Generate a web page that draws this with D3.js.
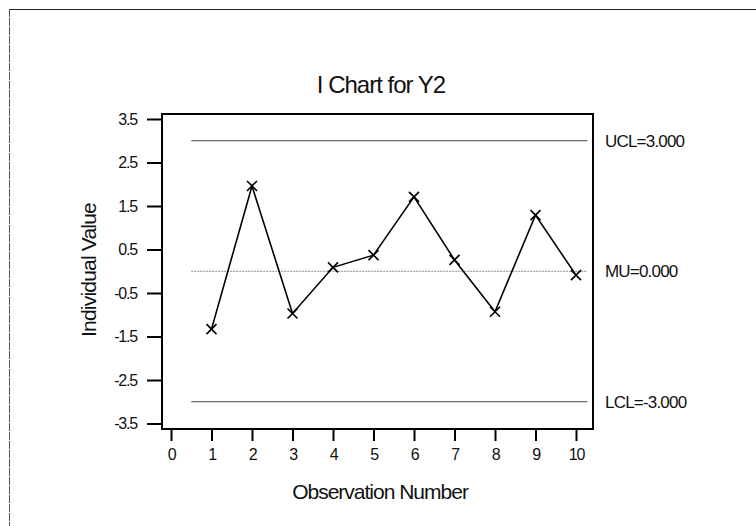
<!DOCTYPE html>
<html>
<head>
<meta charset="utf-8">
<script src="https://cdn.jsdelivr.net/npm/d3@7"></script>
<style>
  html, body { margin: 0; padding: 0; background: #fff; }
  svg { display: block; font-family: "Liberation Sans", Arial, sans-serif; }
</style>
</head>
<body>
<svg id="chart" width="756" height="526"></svg>
<script>
// Individual observations of Y2
const observations = [1, 2, 3, 4, 5, 6, 7, 8, 9, 10];
const values = [-1.33, 1.96, -0.97, 0.09, 0.37, 1.71, 0.26, -0.93, 1.29, -0.09];

// Control limits
const limitNames = ["UCL", "MU", "LCL"];
const limitValues = [3.0, 0.0, -3.0];

// Axis ticks
const xTicks = [0, 1, 2, 3, 4, 5, 6, 7, 8, 9, 10];
const yTicks = [3.5, 2.5, 1.5, 0.5, -0.5, -1.5, -2.5, -3.5];

const svg = d3.select("#chart");

// Plot frame
const box = { left: 162, right: 593, top: 114, bottom: 429 };

const x = d3.scaleLinear().domain([0, 10]).range([171, 576]);
const y = d3.scaleLinear().domain([-3.5, 3.5]).range([423.5, 119]);

// Plain hyphen for negatives
const fmtY = d => d.toFixed(1);

// Outer border (top and left edges)
svg.append("line").attr("x1", 9).attr("x2", 756).attr("y1", 9.5).attr("y2", 9.5)
  .attr("stroke", "#222").attr("stroke-width", 1);
svg.append("line").attr("x1", 9.5).attr("x2", 9.5).attr("y1", 9).attr("y2", 526)
  .attr("stroke", "#555").attr("stroke-width", 1).attr("stroke-dasharray", "8,1");

// Title
svg.append("text")
  .attr("x", 381).attr("y", 93)
  .attr("text-anchor", "middle")
  .attr("font-size", 24)
  .attr("letter-spacing", -1)
  .attr("fill", "#111")
  .text("I Chart for Y2");

// Plot box
svg.append("rect")
  .attr("x", box.left).attr("y", box.top)
  .attr("width", box.right - box.left).attr("height", box.bottom - box.top)
  .attr("fill", "none").attr("stroke", "#000").attr("stroke-width", 2);

// Y axis
const yAxis = d3.axisLeft(y)
  .tickValues(yTicks)
  .tickSize(15)
  .tickPadding(10)
  .tickFormat(fmtY);
const gy = svg.append("g").attr("transform", `translate(${box.left},0)`).call(yAxis);
gy.select(".domain").remove();
gy.selectAll(".tick line").attr("stroke", "#000").attr("stroke-width", 2);
gy.selectAll(".tick text")
  .style("font-size", "16px").attr("fill", "#111").attr("letter-spacing", -1.2)
  .style("font-family", "Liberation Sans, Arial, sans-serif");

// X axis
const xAxis = d3.axisBottom(x)
  .tickValues(xTicks)
  .tickSize(12)
  .tickPadding(8)
  .tickFormat(d3.format("d"));
const gx = svg.append("g").attr("transform", `translate(0,${box.bottom})`).call(xAxis);
gx.select(".domain").remove();
gx.selectAll(".tick line").attr("stroke", "#000").attr("stroke-width", 2);
gx.selectAll(".tick text")
  .style("font-size", "16px").attr("fill", "#111").attr("letter-spacing", -1.2)
  .style("font-family", "Liberation Sans, Arial, sans-serif");

// Axis titles
svg.append("text")
  .attr("x", 380).attr("y", 499)
  .attr("text-anchor", "middle")
  .attr("font-size", 21)
  .attr("letter-spacing", -1)
  .attr("fill", "#111")
  .text("Observation Number");

svg.append("text")
  .attr("transform", "translate(96,270) rotate(-90)")
  .attr("text-anchor", "middle")
  .attr("font-size", 21)
  .attr("letter-spacing", -0.8)
  .attr("fill", "#111")
  .text("Individual Value");

// Control limit lines
const limits = limitNames.map((n, i) => ({ name: n, value: limitValues[i] }));
svg.append("g").selectAll("line")
  .data(limits)
  .join("line")
  .attr("x1", x(0.5)).attr("x2", x(10.28))
  .attr("y1", d => y(d.value)).attr("y2", d => y(d.value))
  .attr("stroke", d => d.name === "MU" ? "#888" : "#444")
  .attr("stroke-width", 1.2)
  .attr("stroke-dasharray", d => d.name === "MU" ? "2,1" : null);

// Limit labels on the right
svg.append("g").selectAll("text")
  .data(limits)
  .join("text")
  .attr("x", 605)
  .attr("y", d => y(d.value) + 6)
  .attr("font-size", 17)
  .attr("letter-spacing", -0.8)
  .attr("fill", "#111")
  .text(d => `${d.name}=${d.value.toFixed(3)}`);

// Observation series
const pts = observations.map((o, i) => ({ o, v: values[i] }));
svg.append("path")
  .datum(pts)
  .attr("fill", "none")
  .attr("stroke", "#000")
  .attr("stroke-width", 1.6)
  .attr("d", d3.line().x(d => x(d.o)).y(d => y(d.v)));

// Cross markers
const s = 5;
svg.append("g").selectAll("path")
  .data(pts)
  .join("path")
  .attr("d", d => {
    const cx = x(d.o), cy = y(d.v);
    return `M${cx - s},${cy - s}L${cx + s},${cy + s}M${cx - s},${cy + s}L${cx + s},${cy - s}`;
  })
  .attr("stroke", "#000")
  .attr("stroke-width", 1.6)
  .attr("fill", "none");
</script>
</body>
</html>
